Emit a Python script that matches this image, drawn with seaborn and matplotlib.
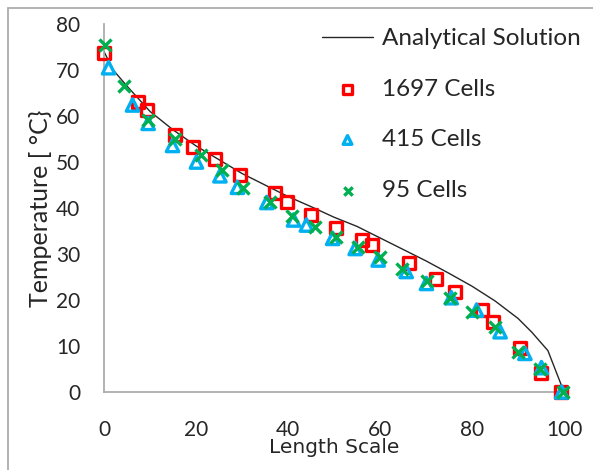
import matplotlib
matplotlib.use("Agg")
import matplotlib.pyplot as plt
import seaborn as sns
from matplotlib.patches import Rectangle

# analytical curve
x_analytical = [0, 2, 5, 10, 15, 20, 25, 30, 35, 40, 45, 50, 55, 60, 65, 70, 75, 80, 85, 90, 93, 96.5, 100]
y_analytical = [74, 70, 66.5, 61, 57, 53.5, 50.5, 47.5, 45, 42.5, 40.3, 38, 36, 33.5, 31, 28.5, 25.8, 23, 19.8, 16, 13, 9, 0]

# 1697 cells
x_1697 = [0, 7.4, 9.3, 15.4, 19.3, 24.1, 29.6, 37.2, 39.8, 45.1, 50.4, 56, 58.2, 66.4, 72.2, 76.3, 82.1, 84.6, 90.4, 95.1, 99.3]
y_1697 = [73.8, 63.1, 61.2, 55.9, 53.3, 50.6, 47.2, 43.2, 41.2, 38.5, 35.6, 33, 32, 28, 24.5, 21.8, 17.8, 15.3, 9.5, 4.1, 0]

# 415 cells
x_415 = [1, 6.2, 9.6, 14.9, 20.1, 25.2, 29, 35.4, 41.2, 44, 49.7, 54.6, 59.6, 65.7, 70.1, 75.5, 81, 86.1, 91.5, 95.1, 99.5]
y_415 = [70.5, 62.4, 58.4, 53.6, 50, 47, 44.5, 41.2, 37.4, 36.3, 33.4, 31.2, 28.7, 26.2, 23.6, 20.5, 17.8, 13.1, 8.4, 5.3, 0]

# 95 cells
x_95 = [0.2, 4.3, 9.6, 15.4, 21, 25.6, 30.3, 36.1, 40.8, 45.9, 50.4, 55.3, 59.9, 64.7, 70.3, 75.2, 79.9, 85, 90.1, 94.8, 99.7]
y_95 = [75.4, 66.6, 59.1, 55.1, 51.6, 48.3, 44.3, 41.2, 38.3, 35.9, 33.8, 31.6, 29.3, 26.7, 24.2, 20.4, 17.5, 14.2, 8.8, 5.1, 0]

sns.set_style("white")
plt.rcParams["font.family"] = ["Lato", "DejaVu Sans"]

fig = plt.figure(figsize=(5.93, 4.70), dpi=100)
ax = fig.add_axes([104 / 593, 1 - 392 / 470, 460 / 593, 368 / 470])

sns.lineplot(x=x_analytical, y=y_analytical, color="#262626", linewidth=1.0,
             label="Analytical Solution", ax=ax)
sns.scatterplot(x=x_1697, y=y_1697, marker="s", s=75, facecolor="none",
                edgecolor="#FF0000", linewidth=2.4, label="1697 Cells", ax=ax, clip_on=False, zorder=3)
sns.scatterplot(x=x_415, y=y_415, marker="^", s=80, facecolor="none",
                edgecolor="#00B0F0", linewidth=2.4, label="415 Cells", ax=ax, clip_on=False, zorder=3)
sns.scatterplot(x=x_95, y=y_95, marker="x", s=75, color="#00B050",
                linewidth=2.4, label="95 Cells", ax=ax, clip_on=False, zorder=4)

ax.set_xlim(0, 100)
ax.set_ylim(0, 80)
ax.set_xticks(range(0, 101, 20))
ax.set_yticks(range(0, 81, 10))
ax.tick_params(axis="both", length=0, labelsize=15, labelcolor="#262626")
ax.tick_params(axis="y", pad=17)
ax.tick_params(axis="x", pad=20)
for side in ["top", "right"]:
    ax.spines[side].set_visible(False)
for side in ["left", "bottom"]:
    ax.spines[side].set_color("#A6A6A6")
    ax.spines[side].set_linewidth(1.2)

ax.set_xlabel("Length Scale", fontsize=14.5, family=["DejaVu Sans"], color="#262626", labelpad=-1)
ax.set_ylabel("Temperature [ °C}", fontsize=18, color="#262626", labelpad=3)

leg = ax.legend(loc="upper left", bbox_to_anchor=(322 / 593, 1 - 28 / 470),
                bbox_transform=fig.transFigure, frameon=False, fontsize=17.5,
                handlelength=2.1, handletextpad=0.35, labelspacing=1.22,
                markerscale=0.7, borderaxespad=0, borderpad=0)
for t in leg.get_texts():
    t.set_color("#262626")

fig.patches.append(Rectangle((8 / 593, -0.1), 1.2, 1 - 8 / 470 + 0.1, transform=fig.transFigure,
                             fill=False, edgecolor="#A6A6A6", linewidth=1.2))

fig.savefig("out.png", dpi=100)
